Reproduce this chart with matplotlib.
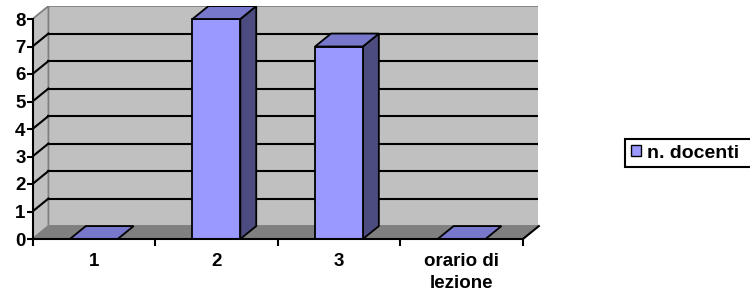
import numpy as np
import matplotlib.pyplot as plt
from matplotlib.patches import Polygon, Patch

categories = ["1", "2", "3", "orario di\nlezione"]
values = [0, 8, 7, 0]
series_name = "n. docenti"
y_ticks = [0, 1, 2, 3, 4, 5, 6, 7, 8]

# 3d look: depth offset of the walls / bars in data units
DX = 0.13
DY = 0.47
BAR_W = 0.39
FS = 13.5

plt.rcParams['font.family'] = ['Liberation Sans', 'DejaVu Sans']
plt.rcParams['font.weight'] = 'bold'

fig = plt.figure(figsize=(7.5, 2.98), dpi=100)
ax = fig.add_axes([32.5 / 750, 59 / 298, 505 / 750, 233 / 298])
n = len(categories)
x0, x1 = -0.5, n - 0.5
ymax = y_ticks[-1]
ax.set_xlim(x0, x0 + 505 / 122.6)
ax.set_ylim(0, 233 / 27.5)

wall_c = '#C0C0C0'
border_c = '#808080'

# back wall
ax.add_patch(Polygon([(x0 + DX, DY), (x1 + DX, DY), (x1 + DX, ymax + DY), (x0 + DX, ymax + DY)],
                     closed=True, fc=wall_c, ec=border_c, lw=1.3, zorder=0))
# left wall
ax.add_patch(Polygon([(x0, 0), (x0 + DX, DY), (x0 + DX, ymax + DY), (x0, ymax)],
                     closed=True, fc=wall_c, ec=border_c, lw=1.3, zorder=0))
# floor
ax.add_patch(Polygon([(x0, 0), (x1, 0), (x1 + DX, DY), (x0 + DX, DY)],
                     closed=True, fc='#808080', ec=border_c, lw=1.0, zorder=0.5))

# gridlines on back wall and diagonals on side wall
for t in y_ticks[1:-1]:
    ax.plot([x0 + DX, x1 + DX], [t + DY, t + DY], color='black', lw=1.5, zorder=1)
    ax.plot([x0, x0 + DX], [t, t + DY], color='black', lw=1.5, zorder=1)
ax.plot([x1, x1 + DX], [0, DY], color='black', lw=1.5, zorder=1, clip_on=False)

# bars
for i, v in enumerate(values):
    l, r = i - BAR_W / 2, i + BAR_W / 2
    if v > 0:
        ax.add_patch(Polygon([(r, 0), (r + DX, DY), (r + DX, v + DY), (r, v)],
                             closed=True, fc='#4C4C80', ec='black', lw=1.3, zorder=3))
        ax.add_patch(Polygon([(l, 0), (r, 0), (r, v), (l, v)],
                             closed=True, fc='#9999FF', ec='black', lw=1.3, zorder=3))
    ax.add_patch(Polygon([(l, v), (r, v), (r + DX, v + DY), (l + DX, v + DY)],
                         closed=True, fc='#7777CC', ec='black', lw=1.3, zorder=3))

# axes
for s in ['top', 'right']:
    ax.spines[s].set_visible(False)
ax.spines['left'].set_bounds(0, ymax)
ax.spines['bottom'].set_bounds(x0, x1)
for s in ['left', 'bottom']:
    ax.spines[s].set_linewidth(1.5)
    ax.spines[s].set_zorder(4)
ax.patch.set_visible(False)

ax.set_yticks(y_ticks)
ax.set_yticklabels([str(t) for t in y_ticks], fontsize=FS, fontweight='bold')
ax.tick_params(axis='y', direction='out', length=4, width=1.5, pad=1)

ax.set_xticks(range(n))
ax.set_xticklabels(categories, fontsize=FS, fontweight='bold', linespacing=1.4)
ax.set_xticks(np.arange(x0, x1 + 0.5), minor=True)
ax.tick_params(axis='x', which='major', length=0, pad=10)
ax.tick_params(axis='x', which='minor', direction='out', length=5, width=1.5)

# legend box runs off the right edge like in the original
leg = fig.legend(handles=[Patch(fc='#9999FF', ec='black', lw=1.0)], labels=[series_name],
                 loc='center left', mode='expand',
                 bbox_to_anchor=(625 / 750, 1 - 169 / 298, 140 / 750, 32 / 298),
                 prop={'size': 14, 'weight': 'bold'}, frameon=True, fancybox=False,
                 edgecolor='black', framealpha=1, borderaxespad=0, borderpad=0.3,
                 handlelength=0.5, handleheight=0.5, handletextpad=0.35)
leg.get_frame().set_linewidth(1.5)

fig.savefig('out.png', dpi=100)
